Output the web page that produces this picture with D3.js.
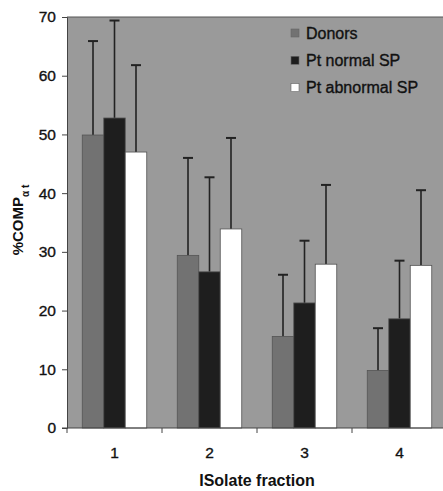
<!DOCTYPE html>
<html>
<head>
<meta charset="utf-8">
<script src="https://cdn.jsdelivr.net/npm/d3@7"></script>
<style>
  body { margin: 0; background: #fff; }
  svg { display: block; font-family: "Liberation Sans", Arial, sans-serif; }
  .heavy { stroke: #111; stroke-width: 0.35; }
</style>
</head>
<body>
<div id="chart"></div>
<script>
// data
const fractions = ["1", "2", "3", "4"];
const seriesNames = ["Donors", "Pt normal SP", "Pt abnormal SP"];
const donors = [49.9, 29.4, 15.6, 9.8];
const ptNormal = [52.8, 26.6, 21.3, 18.6];
const ptAbnormal = [47.0, 33.9, 27.9, 27.7];
const donorsErr = [65.9, 46.0, 26.1, 17.0];
const ptNormalErr = [69.4, 42.7, 31.9, 28.5];
const ptAbnormalErr = [61.8, 49.4, 41.4, 40.5];
const yTicks = [0, 10, 20, 30, 40, 50, 60, 70];

const colors = ["#727272", "#1e1e1e", "#ffffff"];
const values = [donors, ptNormal, ptAbnormal];
const errTops = [donorsErr, ptNormalErr, ptAbnormalErr];

// flatten into one row per bar
const rows = [];
fractions.forEach((f, i) => {
  seriesNames.forEach((s, j) => {
    rows.push({fraction: f, series: s, idx: j, value: values[j][i], top: errTops[j][i]});
  });
});

const width = 443, height = 491;
const margin = {top: 17, right: -4, bottom: 63, left: 67};

const svg = d3.select("#chart").append("svg")
  .attr("width", width)
  .attr("height", height);

const x0 = d3.scaleBand()
  .domain(fractions)
  .range([margin.left, width - margin.right])
  .paddingInner(0);

const x1 = d3.scaleBand()
  .domain(seriesNames)
  .range([0, x0.bandwidth()])
  .paddingInner(0)
  .paddingOuter(0.71);

const y = d3.scaleLinear()
  .domain([0, 70])
  .range([height - margin.bottom, margin.top]);

// plot background
svg.append("rect")
  .attr("x", margin.left)
  .attr("y", margin.top)
  .attr("width", width - margin.left - margin.right)
  .attr("height", y(0) - margin.top)
  .attr("fill", "#9a9a9a");

svg.append("line")
  .attr("x1", margin.left).attr("x2", width)
  .attr("y1", margin.top).attr("y2", margin.top)
  .attr("stroke", "#555").attr("stroke-width", 1);

// error bars (upper only), drawn behind the bars
const errs = svg.append("g");
errs.selectAll("line.stem")
  .data(rows)
  .enter().append("line")
    .attr("class", "stem")
    .attr("x1", d => x0(d.fraction) + x1(d.series) + x1.bandwidth() / 2)
    .attr("x2", d => x0(d.fraction) + x1(d.series) + x1.bandwidth() / 2)
    .attr("y1", d => y(d.value))
    .attr("y2", d => y(d.top))
    .attr("stroke", "#222")
    .attr("stroke-width", 1.6);

errs.selectAll("line.cap")
  .data(rows)
  .enter().append("line")
    .attr("class", "cap")
    .attr("x1", d => x0(d.fraction) + x1(d.series) + x1.bandwidth() / 2 - 5)
    .attr("x2", d => x0(d.fraction) + x1(d.series) + x1.bandwidth() / 2 + 5)
    .attr("y1", d => y(d.top))
    .attr("y2", d => y(d.top))
    .attr("stroke", "#222")
    .attr("stroke-width", 2);

// bars
svg.append("g").selectAll("rect")
  .data(rows)
  .enter().append("rect")
    .attr("x", d => x0(d.fraction) + x1(d.series))
    .attr("y", d => y(d.value))
    .attr("width", x1.bandwidth())
    .attr("height", d => y(0) - y(d.value))
    .attr("fill", d => colors[d.idx])
    .attr("stroke", "#555")
    .attr("stroke-width", 0.8);

// y axis
const yAxis = svg.append("g")
  .attr("transform", `translate(${margin.left},0)`)
  .call(d3.axisLeft(y).tickValues(yTicks).tickSize(5).tickPadding(6));
yAxis.select(".domain").attr("stroke", "#444");
yAxis.selectAll(".tick line").attr("stroke", "#444");
yAxis.selectAll("text")
  .attr("class", "heavy")
  .attr("font-size", 15.5)
  .attr("fill", "#111")
  .attr("font-family", "Liberation Sans, Arial, sans-serif");

// x axis: ticks between the groups, labels centred
const xAxis = svg.append("g")
  .attr("transform", `translate(0,${y(0)})`);
xAxis.append("line")
  .attr("x1", margin.left - 5).attr("x2", width)
  .attr("y1", 0).attr("y2", 0)
  .attr("stroke", "#444");
xAxis.selectAll("line.sep")
  .data(fractions)
  .enter().append("line")
    .attr("class", "sep")
    .attr("x1", d => x0(d)).attr("x2", d => x0(d))
    .attr("y1", 0).attr("y2", 5)
    .attr("stroke", "#444");
xAxis.selectAll("text")
  .data(fractions)
  .enter().append("text")
    .attr("class", "heavy")
    .attr("x", d => x0(d) + x0.bandwidth() / 2)
    .attr("y", 29.5)
    .attr("text-anchor", "middle")
    .attr("font-size", 15.5)
    .attr("fill", "#111")
    .text(d => d);

// axis titles
svg.append("text")
  .attr("x", 257)
  .attr("y", 486)
  .attr("text-anchor", "middle")
  .attr("font-size", 16)
  .attr("font-weight", "bold")
  .attr("fill", "#111")
  .text("ISolate fraction");

const yTitle = svg.append("text")
  .attr("transform", "translate(23,220) rotate(-90)")
  .attr("text-anchor", "middle")
  .attr("font-size", 15)
  .attr("font-weight", "bold")
  .attr("fill", "#111");
yTitle.append("tspan").text("%COMP");
yTitle.append("tspan")
  .attr("baseline-shift", "sub")
  .attr("font-size", 10)
  .text("\u03b1 t");

// legend
const legend = svg.append("g")
  .selectAll("g")
  .data(seriesNames)
  .enter().append("g")
    .attr("transform", (d, i) => `translate(291,${33 + i * 27.3})`);
legend.append("rect")
  .attr("x", 0).attr("y", -4)
  .attr("width", 8).attr("height", 8)
  .attr("fill", (d, i) => colors[i])
  .attr("stroke", "#666")
  .attr("stroke-width", 0.6);
legend.append("text")
  .attr("class", "heavy")
  .attr("x", 15)
  .attr("y", 5.5)
  .attr("font-size", 16)
  .attr("fill", "#111")
  .text(d => d);
</script>
</body>
</html>
